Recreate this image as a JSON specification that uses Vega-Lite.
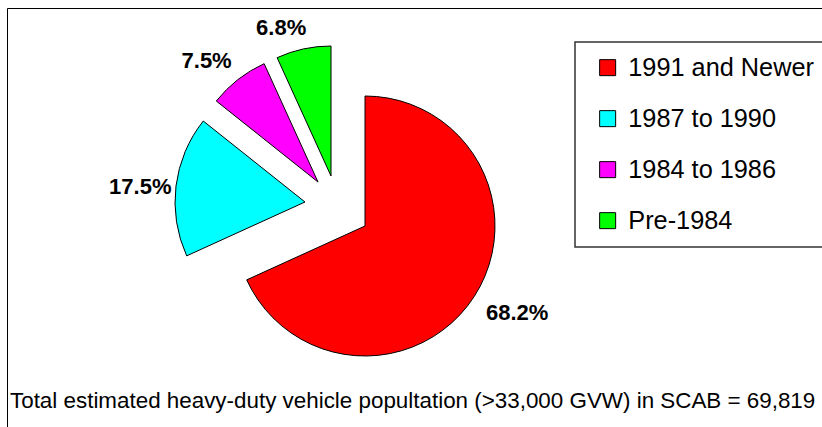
{
  "$schema": "https://vega.github.io/schema/vega-lite/v6.json",
  "width": 815,
  "height": 419,
  "autosize": {"type": "none"},
  "padding": {"left": 7, "top": 8, "right": 0, "bottom": 0},
  "background": "white",
  "view": {"stroke": "black", "strokeWidth": 1, "fill": "white"},
  "title": {
    "text": "Total estimated heavy-duty vehicle popultation (>33,000 GVW) in SCAB = 69,819",
    "orient": "bottom",
    "anchor": "start",
    "frame": "group",
    "offset": -19,
    "baseline": "alphabetic",
    "fontSize": 22.4,
    "fontWeight": "normal",
    "font": "Liberation Sans",
    "color": "black",
    "dx": 3
  },
  "config": {
    "view": {"stroke": "black", "strokeWidth": 1},
    "legend": {
      "orient": "none",
      "legendX": 568,
      "legendY": 34,
      "symbolType": "square",
      "symbolSize": 256,
      "symbolStrokeColor": "black",
      "symbolStrokeWidth": 1,
      "labelFontSize": 25.3,
      "labelFont": "Liberation Sans",
      "labelColor": "black",
      "labelOffset": 8,
      "rowPadding": 25,
      "padding": 13,
      "strokeColor": "#333333",
      "strokeWidth": 1.5,
      "fillColor": "white",
      "symbolOffset": 7,
      "labelLimit": 400
    }
  },
  "data": {
    "values": [
      {"category": "1991 and Newer", "value": 68.2, "label": "68.2%"},
      {"category": "1987 to 1990", "value": 17.5, "label": "17.5%"},
      {"category": "1984 to 1986", "value": 7.5, "label": "7.5%"},
      {"category": "Pre-1984", "value": 6.8, "label": "6.8%"}
    ]
  },
  "transform": [
    {"stack": "value", "groupby": [], "sort": [{"field": "value", "order": "descending"}], "as": ["t0", "t1"]},
    {"calculate": "(datum.t0 + datum.t1) / 2", "as": "mid"}
  ],
  "layer": [
    {
      "transform": [{"filter": "datum.category === '1991 and Newer'"}],
      "mark": {"type": "arc", "radius": 130, "stroke": "black", "strokeWidth": 1, "xOffset": -49.5, "yOffset": 8.5},
      "encoding": {
        "theta": {"field": "t0", "type": "quantitative", "scale": {"domain": [0, 100]}},
        "theta2": {"field": "t1"},
        "color": {"field": "category", "type": "nominal", "title": null,
          "scale": {"domain": ["1991 and Newer", "1987 to 1990", "1984 to 1986", "Pre-1984"], "range": ["#FF0000", "#00FFFF", "#FF00FF", "#00FF00"]}}
      }
    },
    {
      "transform": [{"filter": "datum.category === '1987 to 1990'"}],
      "mark": {"type": "arc", "radius": 130, "stroke": "black", "strokeWidth": 1, "xOffset": -109.5, "yOffset": -15.5},
      "encoding": {
        "theta": {"field": "t0", "type": "quantitative", "scale": {"domain": [0, 100]}},
        "theta2": {"field": "t1"},
        "color": {"field": "category", "type": "nominal", "title": null}
      }
    },
    {
      "transform": [{"filter": "datum.category === '1984 to 1986'"}],
      "mark": {"type": "arc", "radius": 130, "stroke": "black", "strokeWidth": 1, "xOffset": -96.5, "yOffset": -35.5},
      "encoding": {
        "theta": {"field": "t0", "type": "quantitative", "scale": {"domain": [0, 100]}},
        "theta2": {"field": "t1"},
        "color": {"field": "category", "type": "nominal", "title": null}
      }
    },
    {
      "transform": [{"filter": "datum.category === 'Pre-1984'"}],
      "mark": {"type": "arc", "radius": 130, "stroke": "black", "strokeWidth": 1, "xOffset": -83.5, "yOffset": -41.5},
      "encoding": {
        "theta": {"field": "t0", "type": "quantitative", "scale": {"domain": [0, 100]}},
        "theta2": {"field": "t1"},
        "color": {"field": "category", "type": "nominal", "title": null}
      }
    },
    {
      "transform": [{"filter": "datum.category === '1991 and Newer'"}],
      "mark": {"type": "text", "radius": 175, "xOffset": -49.5, "yOffset": 8.5, "dx": 5, "dy": -8, "font": "Liberation Sans", "fontSize": 22, "fontWeight": "bold", "color": "black", "align": "center", "baseline": "middle"},
      "encoding": {
        "theta": {"field": "mid", "type": "quantitative", "scale": {"domain": [0, 100]}},
        "text": {"field": "label"}
      }
    },
    {
      "transform": [{"filter": "datum.category === '1987 to 1990'"}],
      "mark": {"type": "text", "radius": 166, "xOffset": -109.5, "yOffset": -15.5, "dx": 0, "dy": 5, "font": "Liberation Sans", "fontSize": 22, "fontWeight": "bold", "color": "black", "align": "center", "baseline": "middle"},
      "encoding": {
        "theta": {"field": "mid", "type": "quantitative", "scale": {"domain": [0, 100]}},
        "text": {"field": "label"}
      }
    },
    {
      "transform": [{"filter": "datum.category === '1984 to 1986'"}],
      "mark": {"type": "text", "radius": 168, "xOffset": -96.5, "yOffset": -35.5, "dx": -8, "dy": 11, "font": "Liberation Sans", "fontSize": 22, "fontWeight": "bold", "color": "black", "align": "center", "baseline": "middle"},
      "encoding": {
        "theta": {"field": "mid", "type": "quantitative", "scale": {"domain": [0, 100]}},
        "text": {"field": "label"}
      }
    },
    {
      "transform": [{"filter": "datum.category === 'Pre-1984'"}],
      "mark": {"type": "text", "radius": 155, "xOffset": -83.5, "yOffset": -41.5, "dx": -17, "dy": 3, "font": "Liberation Sans", "fontSize": 22, "fontWeight": "bold", "color": "black", "align": "center", "baseline": "middle"},
      "encoding": {
        "theta": {"field": "mid", "type": "quantitative", "scale": {"domain": [0, 100]}},
        "text": {"field": "label"}
      }
    }
  ]
}
